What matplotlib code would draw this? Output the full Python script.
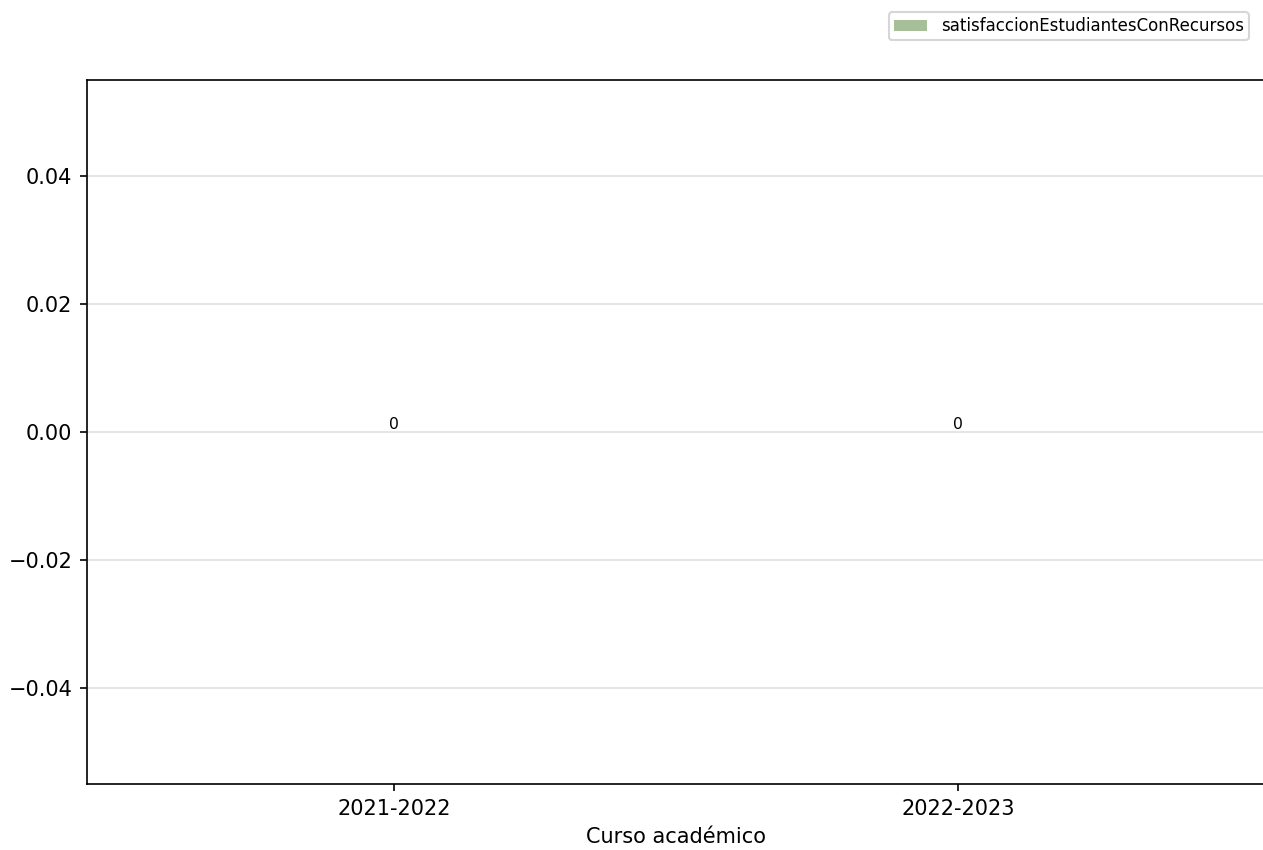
import matplotlib

matplotlib.use("Agg")

import matplotlib.pyplot as plt
import numpy as np

cursos = ["2021-2022", "2022-2023"]
satisfaccion = [0, 0]
serie = "satisfaccionEstudiantesConRecursos"

fig = plt.figure(figsize=(8.42, 5.667), dpi=150)
ax = fig.add_axes([87 / 1263, 66 / 850, (1265 - 87) / 1263, (784 - 80) / 850])

x = np.arange(len(cursos))
bars = ax.bar(x, satisfaccion, width=0.9, color="#a7bf98", label=serie)
ax.bar_label(bars, labels=[f"{v}" for v in satisfaccion], padding=0, fontsize=7.5)

ax.set_xticks(x)
ax.set_xticklabels(cursos)
ax.set_xlim(-0.544, 1.544)
ax.set_ylim(-0.055, 0.055)
ax.set_xlabel("Curso académico")
ax.yaxis.grid(True, color="#e0e0e0", linewidth=0.8)
ax.set_axisbelow(True)

fig.legend(loc="upper right", bbox_to_anchor=(1257 / 1263, 1 - 4 / 850), fontsize=8,
           borderpad=0.3)

fig.savefig("out.png", dpi=150)
plt.close(fig)
